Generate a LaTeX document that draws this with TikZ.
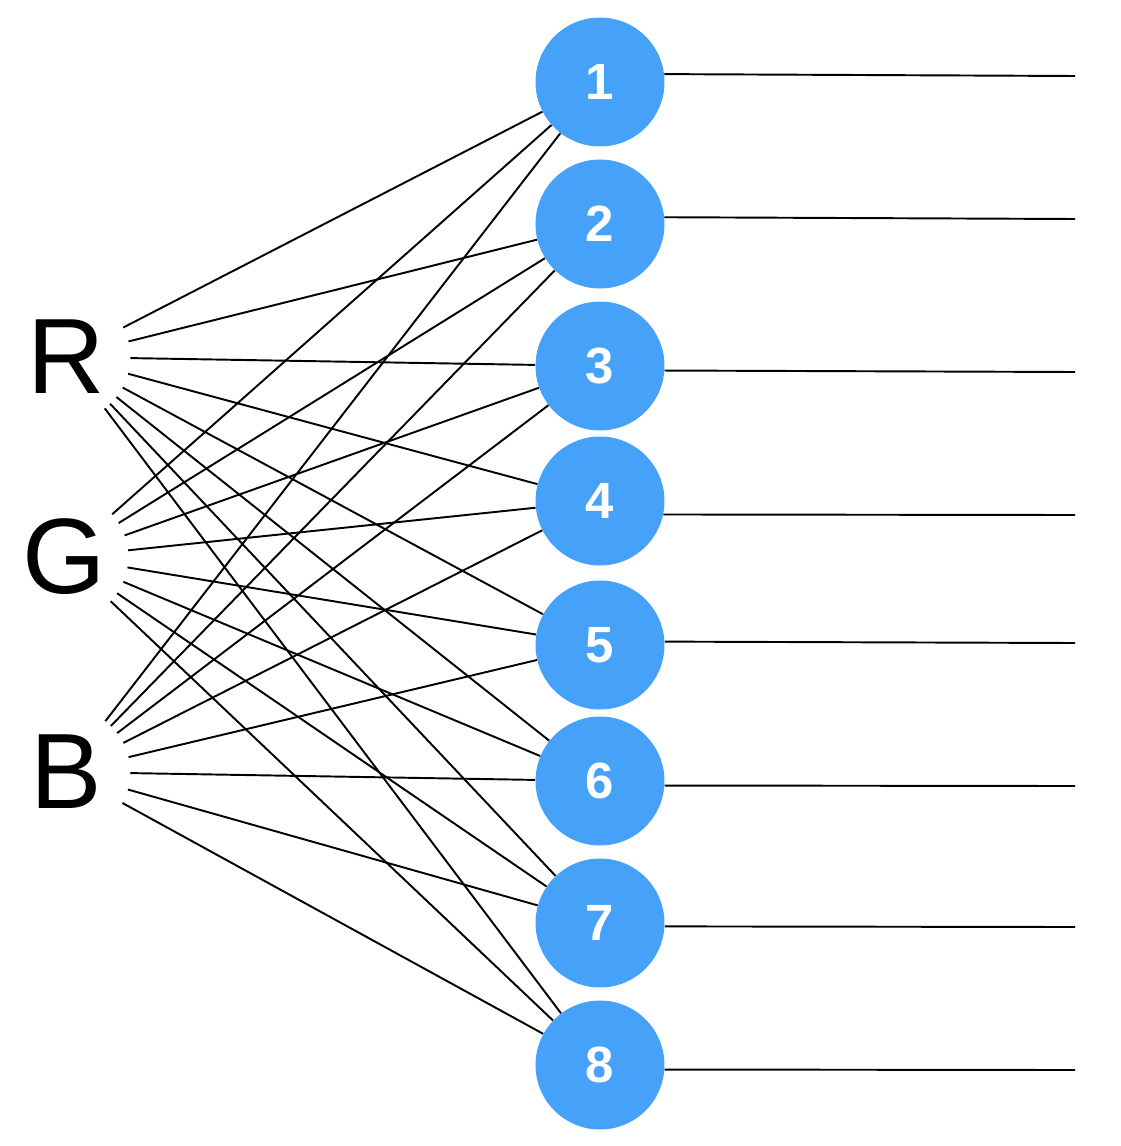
\documentclass[tikz,border=0pt]{standalone}
\usepackage{fontspec}
\setmainfont{Liberation Sans}
\usetikzlibrary{positioning}
\definecolor{nodeblue}{RGB}{70,162,248}
\begin{document}
\begin{tikzpicture}[x=0.02cm, y=-0.02cm,
  unit/.style={circle, fill=nodeblue, minimum size=2.58cm, inner sep=0pt, text=white, font=\fontsize{29}{29}\selectfont\bfseries},
  channel/.style={circle, minimum size=2.56cm, inner sep=0pt, font=\fontsize{61}{61}\selectfont},
  wire/.style={line width=1.1pt}]
  \useasboundingbox (0,0) rectangle (1120,1146);
  % input channels
  \node[channel] (R) at (66,357) {R};
  \node[channel] (G) at (64,557) {G};
  \node[channel] (B) at (66,772) {B};
  % units and their outputs
  \foreach \i/\y/\ly/\a in {1/82/76/7, 2/224/219/6, 3/366/372/-4, 4/501/515/-12, 5/645/643/3, 6/781/786/-4, 7/923/927/-3, 8/1065/1070/-4} {
    \node[unit] (u\i) at (600,\y) {\i};
    \coordinate (o\i) at (1075,\ly);
    \draw[wire] (u\i.\a) -- (o\i);
  }
  % full connections
  \foreach \c in {R,G,B}
    \foreach \i in {1,...,8}
      \draw[wire] (\c) -- (u\i);
\end{tikzpicture}
\end{document}
